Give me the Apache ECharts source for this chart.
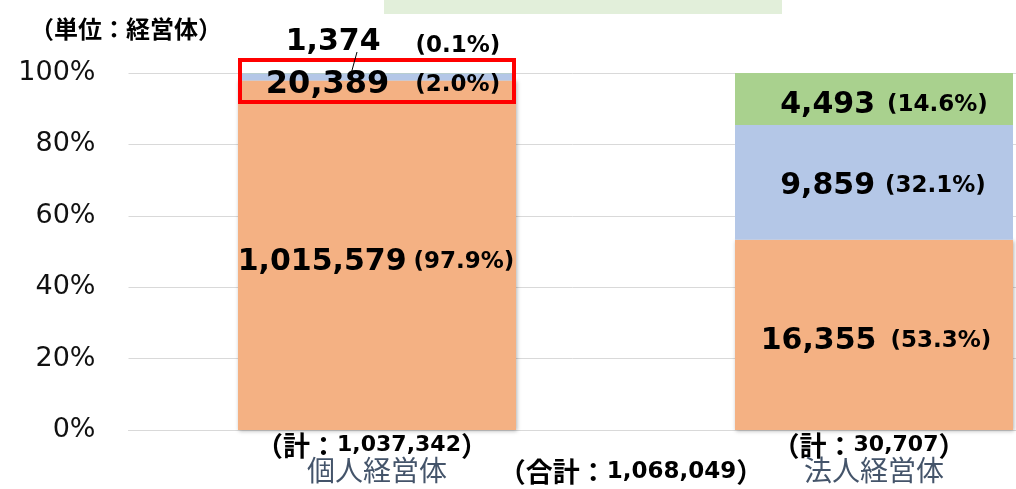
<!DOCTYPE html>
<html><head><meta charset="utf-8">
<script src="https://cdn.jsdelivr.net/npm/echarts@6/dist/echarts.min.js"></script>
<style>html,body{margin:0;padding:0;background:#fff}#c{width:1016px;height:489px}</style>
</head><body><div id="c"></div>
<script>
const categories = ['個人経営体', '法人経営体'];
const categoryTotals = ['1,037,342', '30,707'];
const grandTotal = '1,068,049';
const yTicks = [0, 20, 40, 60, 80, 100];
const seriesNames = ['系列1', '系列2', '系列3'];
const orangeCounts = ['1,015,579', '16,355'];
const orangePct = [97.9, 53.3];
const blueCounts = ['20,389', '9,859'];
const bluePct = [2.0, 32.1];
const greenCounts = ['1,374', '4,493'];
const greenPct = [0.1, 14.6];

const FONT = "'DejaVu Sans','Noto Sans CJK JP',sans-serif";
const JFONT = "'Noto Sans CJK JP','DejaVu Sans',sans-serif";

function makeSeries(name, pcts, counts, color, offsets, pctPad, valSizes, pctPadTop, extraStyle) {
  return {
    name: name, type: 'bar', stack: 'all', barWidth: 278,
    itemStyle: Object.assign({color: color}, extraStyle || {}),
    emphasis: {disabled: true},
    data: pcts.map((v, i) => ({
      value: v,
      label: {
        show: true, position: 'inside', offset: offsets[i],
        formatter: () => `{v|${counts[i]}}{p|(${v.toFixed(1)}%)}`,
        rich: {
          v: {fontFamily: FONT, fontWeight: 'bold', fontSize: valSizes[i], color: '#000'},
          p: {fontFamily: FONT, fontWeight: 'bold', fontSize: 23, color: '#000', padding: [pctPadTop[i], 0, 0, pctPad[i]]}
        }
      }
    }))
  };
}

const chart = echarts.init(document.getElementById('c'));
chart.setOption({
  animation: false,
  grid: {left: 128.5, width: 994, top: 73, height: 357, outerBoundsMode: 'none', containLabel: false},
  xAxis: {
    type: 'category', data: categories,
    axisTick: {show: false},
    axisLine: {lineStyle: {color: '#d9d9d9', width: 1}},
    axisLabel: {
      margin: 3, interval: 0,
      formatter: (val, i) => `{j|（計：}{d|${categoryTotals[i]}}{j|）}{s|}\n{n|${val}}`,
      rich: {
        j: {fontFamily: JFONT, fontWeight: 'bold', fontSize: 27, color: '#000', lineHeight: 25},
        d: {fontFamily: FONT, fontWeight: 'bold', fontSize: 22, color: '#000', lineHeight: 25},
        s: {width: 10, lineHeight: 25},
        n: {fontFamily: JFONT, fontSize: 28, color: '#44546a', lineHeight: 25}
      }
    }
  },
  yAxis: {
    type: 'value', min: 0, max: 100, interval: 20,
    axisLabel: {formatter: '{value}%', fontFamily: FONT, fontSize: 27, color: '#111', margin: 33, padding: [4, 0, 0, 0]},
    splitLine: {lineStyle: {color: '#d9d9d9', width: 1}},
    axisLine: {show: false}, axisTick: {show: false}
  },
  series: [
    makeSeries(seriesNames[0], orangePct, orangeCounts, '#f4b183', [[-1, 7], [2, 6]], [7, 14], [30, 30], [0, 0],
      {shadowColor: 'rgba(0,0,0,0.3)', shadowBlur: 4, shadowOffsetX: 1, shadowOffsetY: 1}),
    makeSeries(seriesNames[1], bluePct, blueCounts, '#b4c7e7', [[6, 8], [9, 4]], [26, 10], [32, 30], [0, 0]),
    makeSeries(seriesNames[2], greenPct, greenCounts, '#a9d18e', [[16, -31], [10, 6]], [35, 12], [30, 30], [8, 0])
  ],
  graphic: [
    {type: 'rect', left: 384, top: 0, shape: {width: 398, height: 14}, style: {fill: '#e2efda'}, z: 10},
    {type: 'text', left: 30, top: 17, style: {text: '（単位：経営体）', font: "bold 24px 'Noto Sans CJK JP'", fill: '#000'}, z: 10},
    {type: 'rect', shape: {x: 240, y: 60, width: 274, height: 42}, style: {fill: 'none', stroke: '#ff0000', lineWidth: 4}, z: 10},
    {type: 'line', shape: {x1: 357, y1: 52, x2: 351, y2: 74}, style: {stroke: '#000', lineWidth: 1}, z: 10},
    {type: 'text', x: 631, y: 472, style: {
      text: '{j|（合計：}{d|' + grandTotal + '}{j|）}', align: 'center', verticalAlign: 'middle',
      rich: {
        j: {fontFamily: JFONT, fontWeight: 'bold', fontSize: 27, fill: '#000'},
        d: {fontFamily: FONT, fontWeight: 'bold', fontSize: 23, fill: '#000'}
      }}, z: 10}
  ]
});
</script></body></html>
